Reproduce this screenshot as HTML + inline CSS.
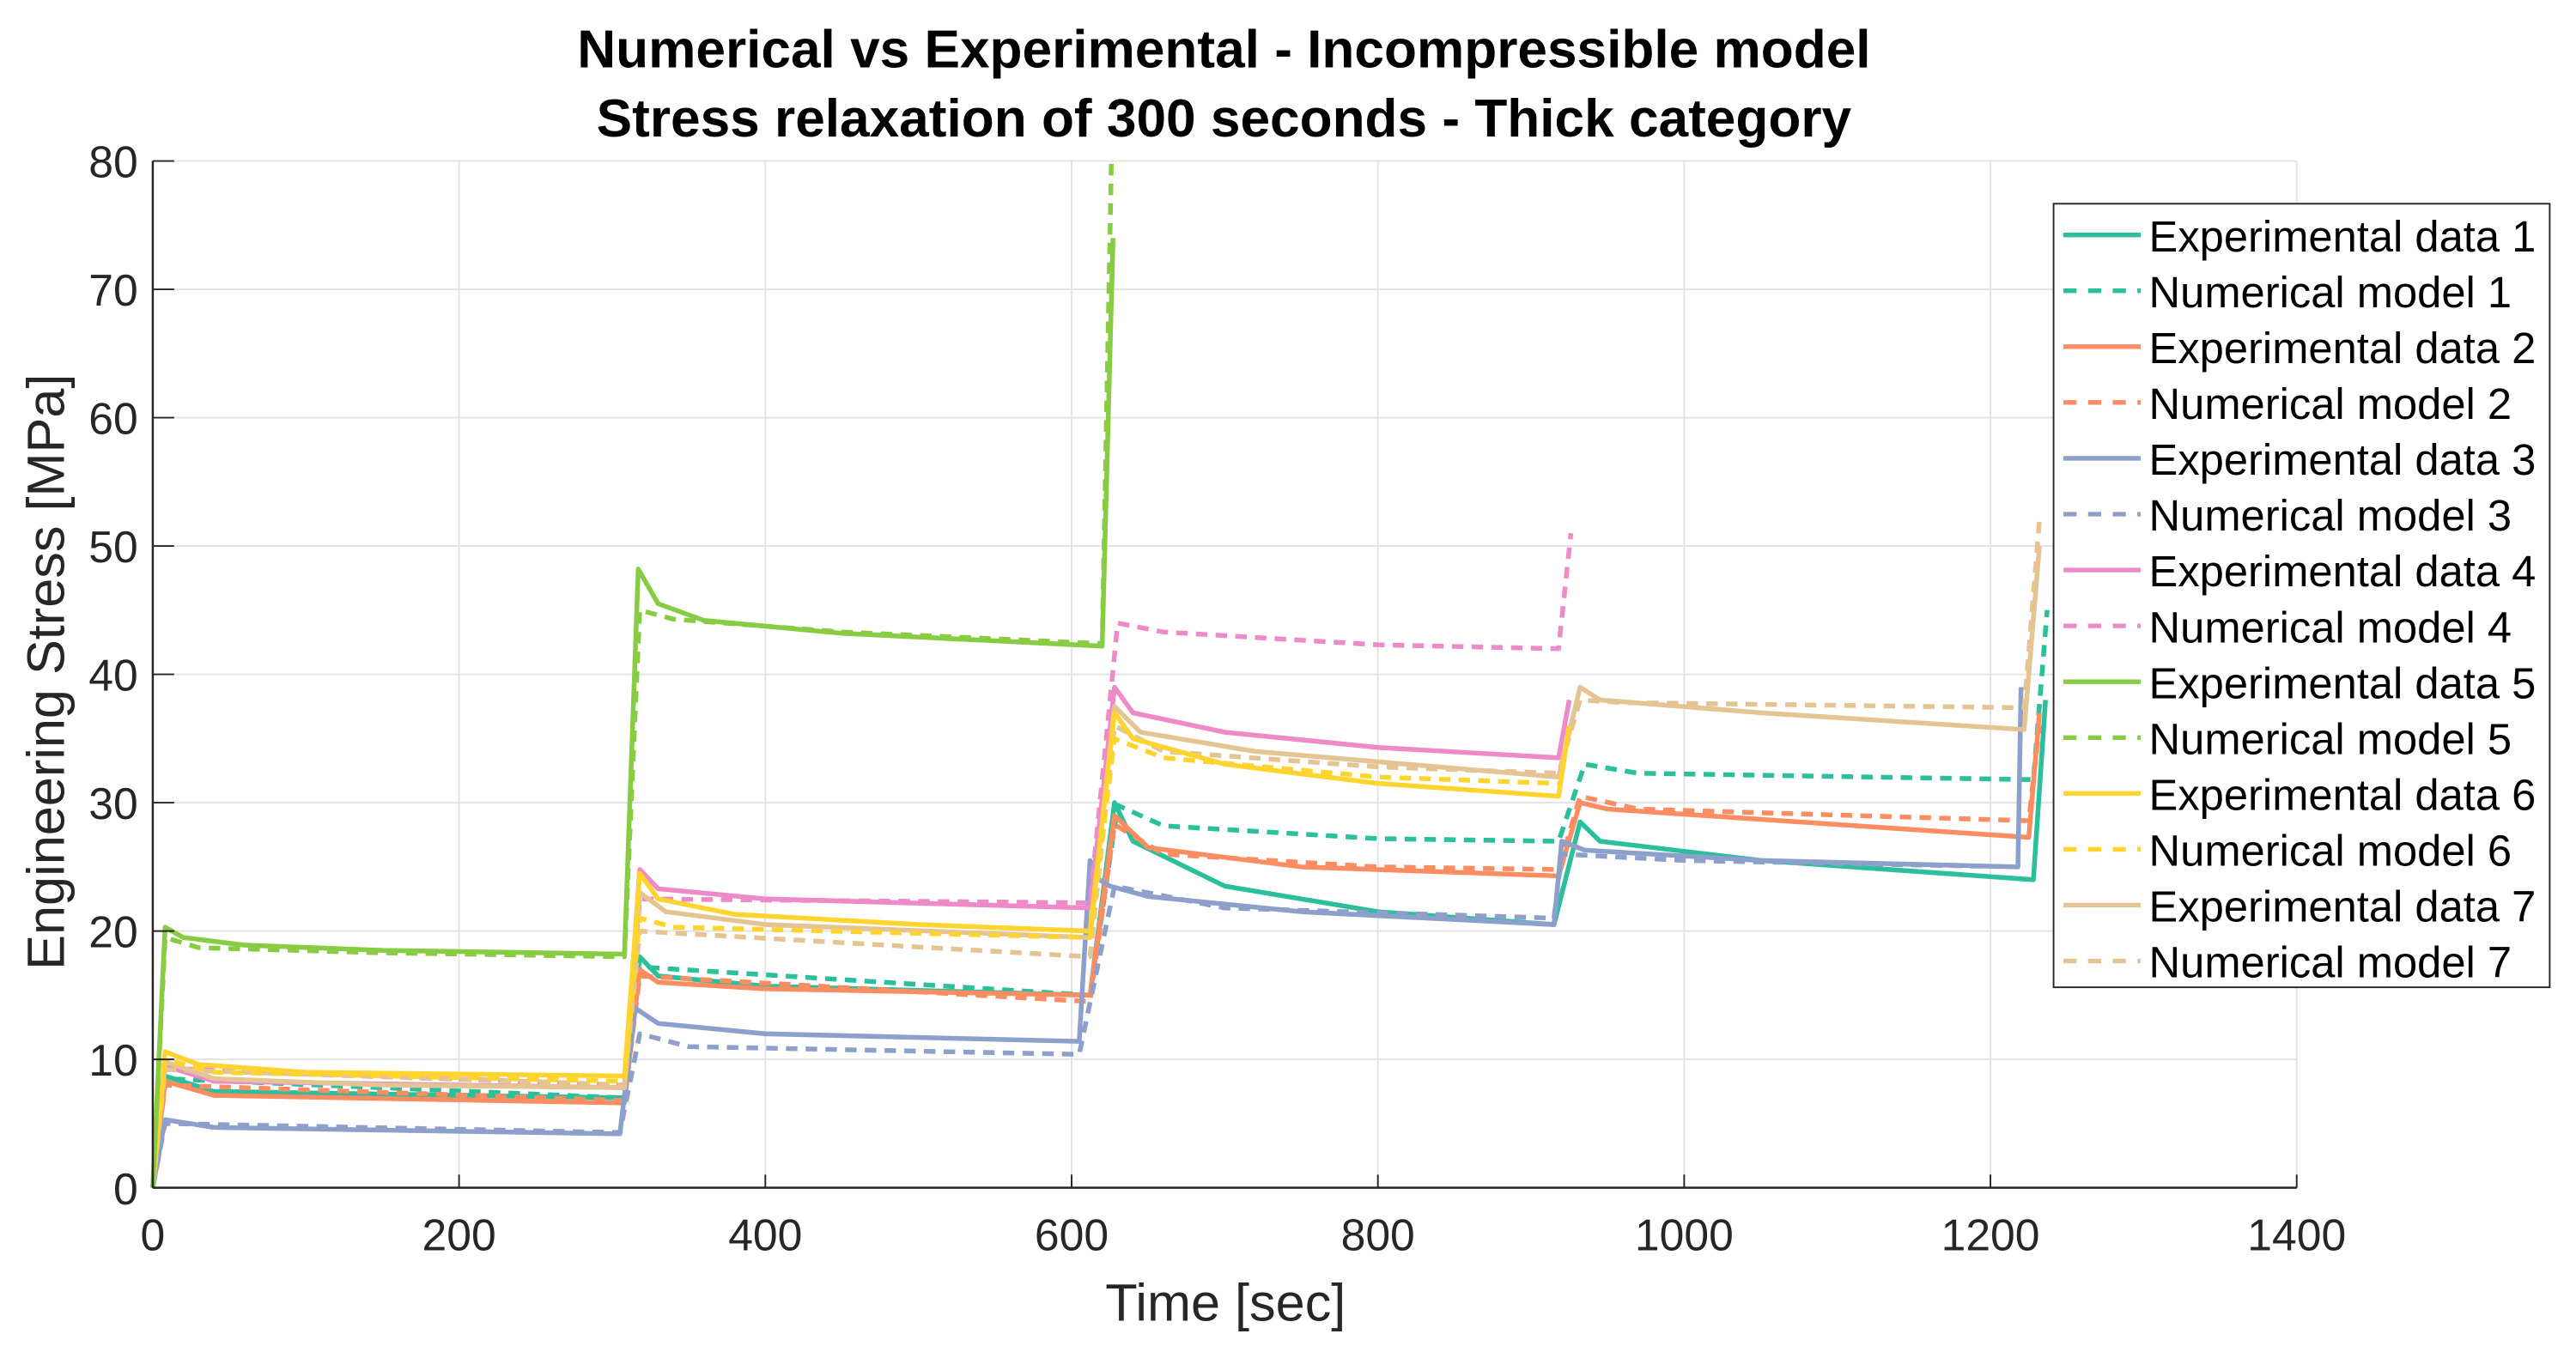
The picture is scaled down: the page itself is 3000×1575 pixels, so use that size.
<!DOCTYPE html>
<html><head><meta charset="utf-8">
<style>
html,body{margin:0;padding:0;background:#fff;}
svg{display:block;font-family:"Liberation Sans",Arial,sans-serif;}
</style></head>
<body>
<svg id="chart" width="3000" height="1575" viewBox="0 0 1568 823" preserveAspectRatio="none" xmlns="http://www.w3.org/2000/svg">
<rect width="1568" height="823" fill="#fff"/>
<g font-weight="bold" font-size="32.5" fill="#000" text-anchor="middle">
<text x="745" y="41">Numerical vs Experimental - Incompressible model</text>
<text x="745" y="83">Stress relaxation of 300 seconds - Thick category</text>
</g>
<g id="grid"></g>
<g id="series"></g>
<g id="axes"></g>
<text x="746" y="804" font-size="32" text-anchor="middle" fill="#262626">Time [sec]</text>
<text transform="translate(39,409) rotate(-90)" font-size="32" text-anchor="middle" fill="#262626">Engineering Stress [MPa]</text>
<g id="legend"></g>
</svg>
<script>
const xTicks = [0,200,400,600,800,1000,1200,1400];
const yTicks = [0,10,20,30,40,50,60,70,80];
const seriesNames = ["Experimental data 1","Numerical model 1","Experimental data 2","Numerical model 2","Experimental data 3","Numerical model 3","Experimental data 4","Numerical model 4","Experimental data 5","Numerical model 5","Experimental data 6","Numerical model 6","Experimental data 7","Numerical model 7"];
const seriesColors = ["#2bbf9c","#2bbf9c","#fc8d62","#fc8d62","#8da0cb","#8da0cb","#ee8ac8","#ee8ac8","#88cc44","#88cc44","#ffd42f","#ffd42f","#e5c494","#e5c494"];
const exp1 = [[0,0],[8,8.7],[40,7.5],[308,7],[318,18],[330,16.5],[400,15.7],[612,15],[628,30],[640,27],[700,23.5],[800,21.5],[915,20.5],[932,28.5],[945,27],[1050,25.5],[1228,24],[1236,38]];
const num1 = [[0,0],[8,8.5],[308,7],[318,17.2],[612,15],[630,29.8],[660,28.2],[800,27.2],[918,27],[935,33],[970,32.3],[1228,31.8],[1237,45]];
const exp2 = [[0,0],[8,8.3],[40,7.2],[308,6.6],[318,17],[330,16],[400,15.5],[612,15],[628,29],[650,26.5],[750,25],[918,24.3],[932,30],[950,29.5],[1100,28.3],[1225,27.3],[1232,37]];
const num2 = [[0,0],[8,8],[308,6.8],[318,16.5],[612,14.5],[628,28.3],[660,26],[800,25],[918,24.8],[932,30.5],[970,29.5],[1225,28.6],[1232,36]];
const exp3 = [[0,0],[8,5.3],[40,4.7],[305,4.2],[315,14],[330,12.8],[400,12],[605,11.4],[612,25.5],[618,24],[625,23.5],[650,22.7],[750,21.5],[915,20.5],[920,27],[935,26.3],[1050,25.5],[1218,25],[1220,39]];
const num3 = [[0,0],[8,5],[305,4.3],[318,12],[350,11],[605,10.4],[628,23.5],[700,21.8],[915,21],[920,26],[1000,25.5],[1218,25]];
const exp4 = [[0,0],[8,9.5],[40,8.3],[308,7.8],[318,24.8],[330,23.3],[400,22.5],[612,21.8],[628,39],[640,37],[700,35.5],[800,34.3],[918,33.5],[925,38]];
const num4 = [[0,0],[8,9.3],[308,8],[318,22.5],[612,22.2],[630,44],[660,43.3],[800,42.3],[918,42],[926,51]];
const exp5 = [[0,0],[8,20.3],[20,19.5],[60,18.9],[150,18.5],[308,18.2],[317,48.2],[330,45.5],[360,44.2],[450,43.2],[620,42.2],[627,74]];
const num5 = [[0,0],[8,19.5],[30,18.7],[150,18.3],[308,18],[318,45],[340,44.3],[450,43.3],[620,42.4],[626,80]];
const exp6 = [[0,0],[8,10.6],[30,9.6],[100,9.0],[308,8.7],[318,24.5],[330,22.5],[380,21.3],[500,20.5],[612,20],[628,37],[640,35],[700,33],[800,31.5],[918,30.5],[925,36]];
const num6 = [[0,0],[8,10],[40,9],[308,8.3],[318,21],[340,20.3],[612,19.5],[628,35],[660,33.5],[800,32],[918,31.5]];
const exp7 = [[0,0],[8,9.8],[40,8.5],[150,8],[308,7.8],[318,23],[335,21.5],[400,20.5],[612,19.5],[628,37.5],[645,35.5],[720,34],[918,32],[932,39],[945,38],[1050,37],[1222,35.7],[1232,50]];
const num7 = [[0,0],[8,9.2],[308,8],[318,20],[612,18],[628,36],[660,34],[800,32.8],[918,32.3],[932,38],[960,37.8],[1222,37.4],[1232,52]];
const seriesData = [exp1,num1,exp2,num2,exp3,num3,exp4,num4,exp5,num5,exp6,num6,exp7,num7];

const NS="http://www.w3.org/2000/svg";
const X0=93,X1=1398,Y0=723,Y1=98;
const xMax=1400,yMax=80;
function sx(t){return X0+(t/xMax)*(X1-X0);}
function sy(v){return Y0-(Math.min(v,yMax)/yMax)*(Y0-Y1);}
function mk(tag,attrs,parent){const e=document.createElementNS(NS,tag);for(const k in attrs)e.setAttribute(k,attrs[k]);parent.appendChild(e);return e;}

const grid=document.getElementById('grid');
const axes=document.getElementById('axes');
xTicks.forEach(t=>{
  const g=mk('line',{x1:sx(t),x2:sx(t),y1:Y1,y2:Y0,stroke:'#e3e3e3','stroke-width':1},grid);
  
  
  const tk=mk('line',{x1:sx(t),x2:sx(t),y1:Y0,y2:Y0-8,stroke:'#262626','stroke-width':1},axes);
  
  
  const lb=mk('text',{x:sx(t),y:Y0+38,'font-size':27,'text-anchor':'middle',fill:'#262626'},axes);
  lb.textContent=t;
  
  
});
yTicks.forEach(v=>{
  const g=mk('line',{x1:X0,x2:X1,y1:sy(v),y2:sy(v),stroke:'#e3e3e3','stroke-width':1},grid);
  
  
  const tk=mk('line',{x1:X0,x2:X0+13,y1:sy(v),y2:sy(v),stroke:'#262626','stroke-width':1},axes);
  
  
  const lb=mk('text',{x:X0-9,y:sy(v)+10,'font-size':27,'text-anchor':'end',fill:'#262626'},axes);
  lb.textContent=v;
  
  
});
const ax1=mk('line',{x1:X0,x2:X0,y1:Y1,y2:Y0,stroke:'#262626','stroke-width':1.3},axes);


const ax2=mk('line',{x1:X0,x2:X1,y1:Y0,y2:Y0,stroke:'#262626','stroke-width':1.3},axes);



const sg=document.getElementById('series');
const order=[0,1,2,3,4,5,6,7,12,13,10,11,8,9];
order.forEach(i=>{
  const d=seriesData[i].map(p=>sx(p[0]).toFixed(1)+','+sy(p[1]).toFixed(1)).join(' ');
  const attrs={points:d,fill:'none',stroke:seriesColors[i],'stroke-width':2.9,'stroke-linejoin':'round'};
  if(i%2===1)attrs['stroke-dasharray']='7,5';
  const pl=mk('polyline',attrs,sg);
  
  
});

const lg=document.getElementById('legend');
const box=mk('rect',{x:1250,y:124,width:302,height:477,fill:'#fff',stroke:'#262626','stroke-width':1},lg);


seriesNames.forEach((n,i)=>{
  const y=143+i*34;
  const la={x1:1256,x2:1303,y1:y,y2:y,stroke:seriesColors[i],'stroke-width':2.8};
  if(i%2===1)la['stroke-dasharray']='8,7';
  const l=mk('line',la,lg);
  
  
  const t=mk('text',{x:1308,y:y+10,'font-size':26.5,fill:'#000'},lg);
  t.textContent=n;
  
  
});
</script>
</body></html>
